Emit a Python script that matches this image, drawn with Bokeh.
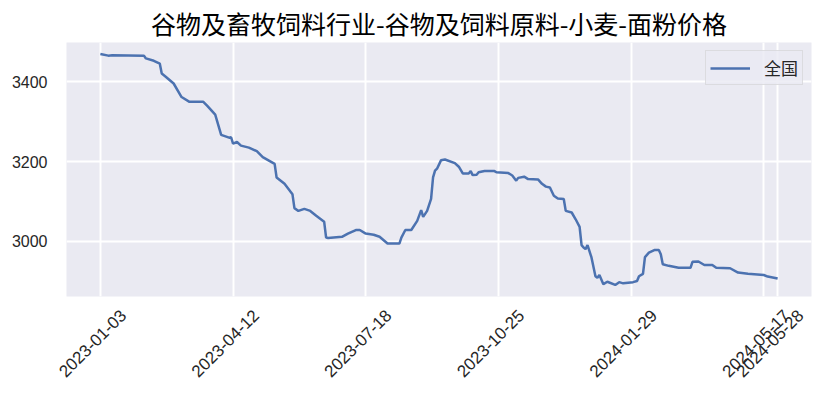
import math
from bokeh.plotting import figure
from bokeh.models import Range1d, FixedTicker, LinearAxis, Legend, LegendItem, ColumnDataSource
from bokeh.embed import file_html
from bokeh.resources import INLINE

# ---- data ----
day_index = [0, 4, 6, 22, 23, 27, 30, 31, 33, 37, 41, 45, 52, 54, 58, 61, 65, 66, 67, 69,
             71, 75, 79, 82, 88, 89, 93, 97, 98, 100, 103, 106, 109, 113, 114, 115, 122, 125, 129, 131,
             134, 138, 141, 145, 151, 152, 154, 157, 160, 162, 163, 165, 167, 168, 169, 170, 172, 174, 179, 181,
             183, 186, 187, 188, 190, 191, 194, 199, 200, 206, 208, 210, 211, 214, 216, 221, 223, 225, 227, 229,
             231, 234, 235, 238, 240, 242, 243, 244, 245, 246, 248, 250, 251, 252, 254, 256, 260, 262, 264, 269,
             271, 272, 274, 275, 277, 280, 282, 283, 284, 287, 292, 298, 299, 302, 305, 309, 311, 318, 322, 327,
             335, 337, 342]
price = [3470, 3466, 3467, 3466, 3459, 3453, 3446, 3421, 3413, 3396, 3362, 3350, 3350, 3340, 3318, 3267, 3260, 3261, 3245, 3249,
         3240, 3235, 3226, 3211, 3194, 3160, 3144, 3118, 3083, 3076, 3081, 3076, 3064, 3049, 3009, 3008, 3011, 3019, 3028, 3028,
         3019, 3016, 3011, 2994, 2994, 3009, 3028, 3028, 3051, 3078, 3061, 3076, 3106, 3160, 3177, 3182, 3203, 3205, 3196, 3187,
         3170, 3170, 3176, 3166, 3167, 3173, 3176, 3176, 3173, 3171, 3165, 3152, 3159, 3162, 3156, 3155, 3144, 3137, 3135, 3114,
         3107, 3106, 3076, 3072, 3055, 3036, 2990, 2984, 2980, 2990, 2959, 2912, 2908, 2915, 2892, 2898, 2890, 2897, 2894, 2897,
         2900, 2912, 2918, 2960, 2971, 2978, 2978, 2967, 2942, 2938, 2933, 2933, 2948, 2949, 2940, 2940, 2933, 2932, 2921, 2918,
         2915, 2911, 2906]
tick_index = [0, 67, 134, 201, 268, 335, 342]
tick_labels = ["2023-01-03", "2023-04-12", "2023-07-18", "2023-10-25", "2024-01-29", "2024-05-17", "2024-05-28"]
y_ticks = [3000, 3200, 3400]
series_name = "全国"
title_text = "谷物及畜牧饲料行业-谷物及饲料原料-小麦-面粉价格"

X0, X1 = -17.1, 359.1
LABEL_SHIFT = 11.5  # shifts rotated labels so that they are centred under their ticks

p = figure(width=823, height=392, output_backend="svg", toolbar_location=None,
           x_range=Range1d(X0, X1), y_range=Range1d(2861, 3499),
           min_border_left=66, min_border_right=12, min_border_top=42, min_border_bottom=96)

p.title.text = title_text
p.title.text_font = "Noto Sans CJK SC"
p.title.text_font_size = "25px"
p.title.text_font_style = "normal"
p.title.align = "center"
p.title.text_color = "black"
p.title.standoff = 4

p.background_fill_color = "#EAEAF2"
p.border_fill_color = "white"
p.outline_line_color = None

p.xaxis.visible = False
p.xgrid.ticker = FixedTicker(ticks=tick_index)
p.ygrid.ticker = FixedTicker(ticks=y_ticks)
p.grid.grid_line_color = "white"
p.grid.grid_line_width = 2

p.yaxis.ticker = FixedTicker(ticks=y_ticks)
p.yaxis.axis_line_color = None
p.yaxis.major_tick_line_color = None
p.yaxis.minor_tick_line_color = None
p.yaxis.major_tick_out = 0
p.yaxis.major_tick_in = 0
p.yaxis.major_label_standoff = 19
p.yaxis.major_label_text_font = "Liberation Sans"
p.yaxis.major_label_text_font_size = "16px"
p.yaxis.major_label_text_color = "#262626"

# label axis on a shifted copy of the x range
p.extra_x_ranges = {"lab": Range1d(X0 - LABEL_SHIFT, X1 - LABEL_SHIFT)}
xlab = LinearAxis(x_range_name="lab", ticker=FixedTicker(ticks=tick_index),
                  major_label_overrides={t: s for t, s in zip(tick_index, tick_labels)},
                  major_label_orientation=math.pi / 4)
xlab.axis_line_color = None
xlab.major_tick_line_color = None
xlab.minor_tick_line_color = None
xlab.major_tick_out = 0
xlab.major_tick_in = 0
xlab.major_label_standoff = 16
xlab.major_label_text_font = "Liberation Sans"
xlab.major_label_text_font_size = "17px"
xlab.major_label_text_color = "#262626"
p.add_layout(xlab, "below")

src = ColumnDataSource(dict(x=day_index, y=price))
r = p.line("x", "y", source=src, line_color="#4C72B0", line_width=2.5)

legend = Legend(items=[LegendItem(label=series_name, renderers=[r])], location="top_right")
legend.label_text_font = "Noto Sans CJK SC"
legend.label_text_font_size = "17px"
legend.label_text_color = "#262626"
legend.glyph_width = 40
legend.label_standoff = 14
legend.padding = 4
legend.margin = 8
legend.background_fill_color = "#EAEAF2"
legend.background_fill_alpha = 0.8
legend.border_line_color = "#cccccc"
legend.border_line_width = 1
p.add_layout(legend, "center")

open("out.html", "w").write(file_html(p, INLINE))
